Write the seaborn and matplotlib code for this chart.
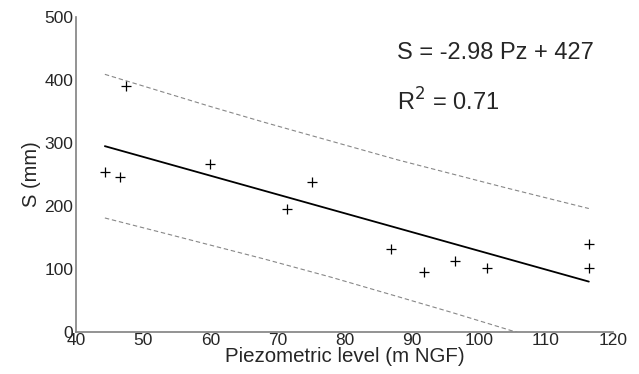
import numpy as np
import pandas as pd
import matplotlib
matplotlib.use("Agg")
import matplotlib.pyplot as plt
import seaborn as sns

pz = [44.3, 46.5, 47.5, 59.9, 71.5, 75.1, 86.9, 91.9, 96.4, 101.2, 116.4, 116.4]
s_mm = [254, 246, 391, 266, 196, 238, 132, 96, 112, 101, 139, 101]

# regression line S = -2.98 Pz + 427
fit_x = [44.3, 116.4]
fit_y = [295, 80]

# prediction bands (dashed)
band_x = [44.3, 52, 60, 68, 78, 88, 96, 104, 116.4]
band_upper = [409, 384, 358, 333, 303, 273, 251, 229, 196]
band_lower = [181, 160, 138, 116, 87, 56, 31, 5, -36]

x_ticks = [40, 50, 60, 70, 80, 90, 100, 110, 120]
y_ticks = [0, 100, 200, 300, 400, 500]

sns.set_style("white")
plt.rcParams['font.family'] = ['Liberation Sans', 'DejaVu Sans']

fig = plt.figure(figsize=(6.39, 3.74), dpi=100)
ax = fig.add_axes([76/639, 1 - 332/374, (613-76)/639, (332-17)/374])

df = pd.DataFrame({'pz': pz, 's': s_mm})
sns.scatterplot(data=df, x='pz', y='s', marker='+', s=60, color='black',
                linewidth=0.9, ax=ax, zorder=3)

sns.lineplot(x=fit_x, y=fit_y, color='black', linewidth=1.3, ax=ax)
sns.lineplot(x=band_x, y=band_upper, color='#888888', linewidth=0.8,
             linestyle=(0, (4, 2.5)), ax=ax)
sns.lineplot(x=band_x, y=band_lower, color='#888888', linewidth=0.8,
             linestyle=(0, (4, 2.5)), ax=ax)

ax.set_xlim(40, 120)
ax.set_ylim(0, 500)
ax.set_xticks(x_ticks)
ax.set_yticks(y_ticks)
ax.tick_params(axis='x', direction='in', length=4, width=1, color='#808080',
               labelsize=12.5, pad=1)
ax.tick_params(axis='y', direction='in', length=4, width=1, color='#808080',
               labelsize=12.5, pad=2)
for side in ['top', 'right']:
    ax.spines[side].set_visible(False)
for side in ['left', 'bottom']:
    ax.spines[side].set_color('#808080')
    ax.spines[side].set_linewidth(1.2)

ax.set_xlabel('Piezometric level (m NGF)', fontsize=14.8, labelpad=-1)
ax.set_ylabel('S (mm)', fontsize=14.5, labelpad=2)

ax.text(87.8, 433, 'S = -2.98 Pz + 427', fontsize=17, va='baseline', ha='left')
ax.text(87.8, 351, r'R$^2$ = 0.71', fontsize=17, va='baseline', ha='left')

fig.savefig('out.png', dpi=100)
